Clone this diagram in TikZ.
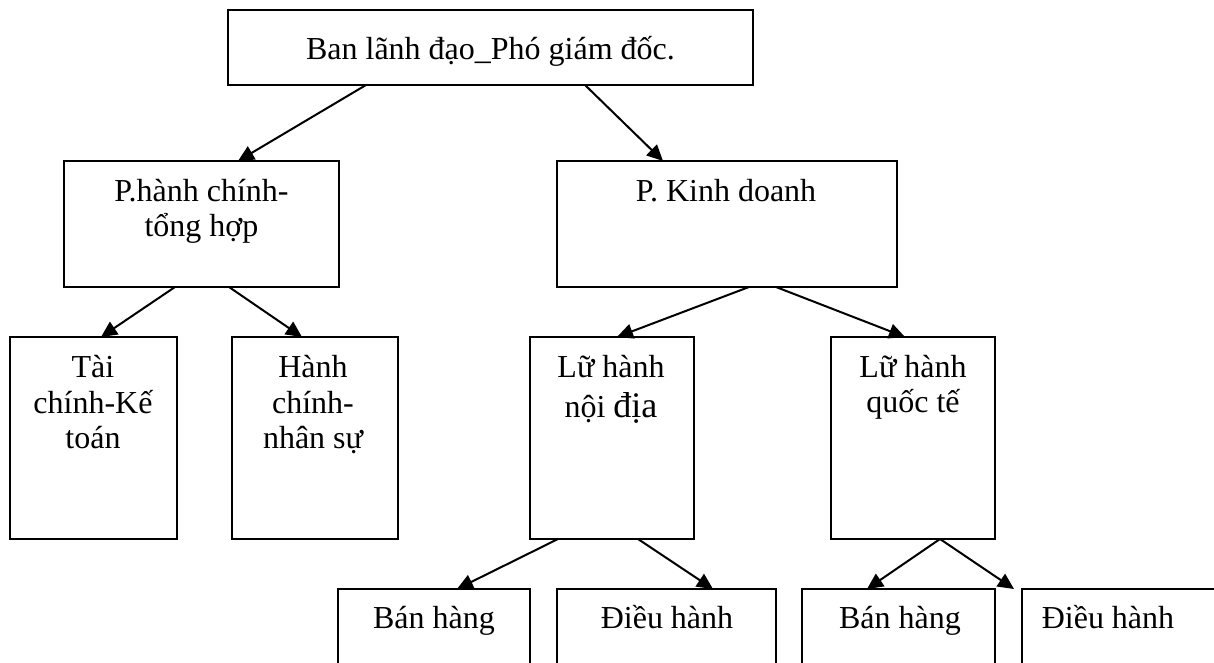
\documentclass[tikz,border=0pt]{standalone}
\usepackage{fontspec}
\setmainfont{Liberation Serif}
\usetikzlibrary{arrows.meta,calc}
\tikzset{
  box/.style={draw, line width=2pt, inner sep=0pt, outer sep=0pt},
  txt/.style={font=\fontsize{32}{35.7}\selectfont, align=flush center, anchor=base, inner sep=0pt, text width=260pt},
  arr/.style={line width=2pt, -{Triangle[length=16pt,width=15pt]}}
}
\begin{document}
\begin{tikzpicture}[x=1pt,y=-1pt]
\useasboundingbox (0,0) rectangle (1214,663);
\clip (0,0) rectangle (1214,663);
\fill[white] (0,0) rectangle (1214,663);
% boxes
\node[box, minimum width=525pt, minimum height=75pt] (top) at (490.5,47.5) {};
\node[box, minimum width=275pt, minimum height=126pt] (phc) at (201.5,224) {};
\node[box, minimum width=340pt, minimum height=126pt] (pkd) at (727,224) {};
\node[box, minimum width=167pt, minimum height=202pt] (tc) at (93.5,438) {};
\node[box, minimum width=166pt, minimum height=202pt] (hc) at (315,438) {};
\node[box, minimum width=164pt, minimum height=202pt] (lhnd) at (612,438) {};
\node[box, minimum width=164pt, minimum height=202pt] (lhqt) at (913,438) {};
\node[box, minimum width=192pt, minimum height=111pt] (bh1) at (434,644.5) {};
\node[box, minimum width=219pt, minimum height=111pt] (dh1) at (666.5,644.5) {};
\node[box, minimum width=193pt, minimum height=111pt] (bh2) at (898.5,644.5) {};
\node[box, minimum width=238pt, minimum height=111pt] (dh2) at (1141,644.5) {};
% texts
\node[txt, text width=500pt] (top-t) at (490.5,60) {Ban lãnh đạo\_Phó giám đốc.};
\node[txt] (phc-t) at (201.5,201) {P.hành chính-\\tổng hợp};
\node[txt] (pkd-t) at (726,201.7) {P. Kinh doanh};
\node[txt, text width=160pt] (tc-t) at (93,377.5) {Tài\\chính-Kế\\toán};
\node[txt, text width=160pt] (hc-t) at (313,377.5) {Hành\\chính-\\nhân sự};
\node[txt, text width=160pt] (lhnd-t) at (611,377) {Lữ hành\\[5pt]nội {\fontsize{36}{36}\selectfont địa}};
\node[txt, text width=160pt] (lhqt-t) at (913,377) {Lữ hành\\quốc tế};
\node[txt, text width=190pt] (bh1-t) at (434,628) {Bán hàng};
\node[txt, text width=210pt] (dh1-t) at (667,628) {Điều hành};
\node[txt, text width=190pt] (bh2-t) at (900,628) {Bán hàng};
\node[txt, text width=200pt] (dh2-t) at (1108,628) {Điều hành};
% connectors
\draw[arr] ($(top.south west)+(138,0)$) -- ($(phc.north west)+(174,0)$);
\draw[arr] ($(top.south west)+(357,0)$) -- ($(pkd.north west)+(106,0)$);
\draw[arr] ($(phc.south west)+(111,0)$) -- ($(tc.north west)+(91,0)$);
\draw[arr] ($(phc.south west)+(165,0)$) -- ($(hc.north west)+(70,0)$);
\draw[arr] ($(pkd.south west)+(192,0)$) -- ($(lhnd.north west)+(87,0)$);
\draw[arr] ($(pkd.south west)+(219,0)$) -- ($(lhqt.north west)+(74,0)$);
\draw[arr] ($(lhnd.south west)+(28,0)$) -- ($(bh1.north west)+(119,0)$);
\draw[arr] ($(lhnd.south west)+(108,0)$) -- ($(dh1.north west)+(156,0)$);
\draw[arr] ($(lhqt.south west)+(109,0)$) -- ($(bh2.north west)+(65,0)$);
\draw[arr] ($(lhqt.south west)+(109,0)$) -- ($(dh2.north west)+(-8,0)$);
\end{tikzpicture}
\end{document}
